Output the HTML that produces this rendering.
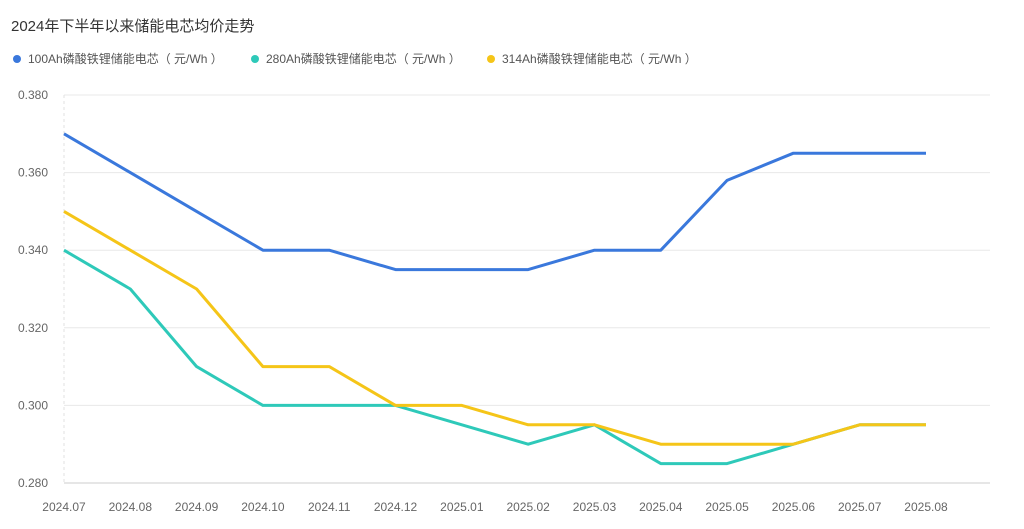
<!DOCTYPE html>
<html><head><meta charset="utf-8"><style>
body{margin:0;background:#fff;width:1024px;height:529px;overflow:hidden;font-family:"Liberation Sans","Noto Sans CJK SC",sans-serif}
</style></head><body>
<svg id="c" width="1024" height="529" style="position:absolute;left:0;top:0">
<text x="11" y="31" font-size="15" fill="#333">2024年下半年以来储能电芯均价走势</text>
</svg>
<script>
const categories=["2024.07","2024.08","2024.09","2024.10","2024.11","2024.12","2025.01","2025.02","2025.03","2025.04","2025.05","2025.06","2025.07","2025.08"];
const seriesNames=["100Ah磷酸铁锂储能电芯（ 元/Wh ）","280Ah磷酸铁锂储能电芯（ 元/Wh ）","314Ah磷酸铁锂储能电芯（ 元/Wh ）"];
const s100=[0.370,0.360,0.350,0.340,0.340,0.335,0.335,0.335,0.340,0.340,0.358,0.365,0.365,0.365];
const s280=[0.340,0.330,0.310,0.300,0.300,0.300,0.295,0.290,0.295,0.285,0.285,0.290,0.295,0.295];
const s314=[0.350,0.340,0.330,0.310,0.310,0.300,0.300,0.295,0.295,0.290,0.290,0.290,0.295,0.295];
const yTicks=[0.280,0.300,0.320,0.340,0.360,0.380];
const colors=["#3a78dc","#2ec9b9","#f5c518"];
const NS="http://www.w3.org/2000/svg",svg=document.getElementById('c');
const x0=64,x1=926,y0=483,y1=95,ymin=0.28,ymax=0.38;
const X=i=>x0+(x1-x0)*i/(categories.length-1);
const Y=v=>y0-(v-ymin)/(ymax-ymin)*(y0-y1);
function mk(t,a){const e=document.createElementNS(NS,t);for(const k in a)e.setAttribute(k,a[k]);svg.appendChild(e);return e;}
yTicks.forEach(v=>{
const g=mk('line',{x1:x0,x2:990,y1:Y(v),y2:Y(v),stroke:v===ymin?'#ccc':'#e8e8e8','stroke-width':1});


const t=mk('text',{x:48,y:Y(v)+4,'font-size':12,fill:'#666','text-anchor':'end'});
t.textContent=v.toFixed(3);


});
const ax=mk('line',{x1:x0,x2:x0,y1:y1,y2:y0,stroke:'#e0e0e0','stroke-dasharray':'3,3'});


categories.forEach((c,i)=>{
const t=mk('text',{x:X(i),y:511,'font-size':12,fill:'#666','text-anchor':'middle'});
t.textContent=c;


});
[s100,s280,s314].forEach((s,k)=>{
const p=mk('polyline',{points:s.map((v,i)=>X(i)+','+Y(v)).join(' '),fill:'none',stroke:colors[k],'stroke-width':3,'stroke-linejoin':'round'});


});
const lx=[17,255,491];
seriesNames.forEach((n,k)=>{
const c=mk('circle',{cx:lx[k],cy:59,r:4,fill:colors[k]});


const t=mk('text',{x:lx[k]+11,y:63,'font-size':12,fill:'#555'});
t.textContent=n;


});
</script>
</body></html>
